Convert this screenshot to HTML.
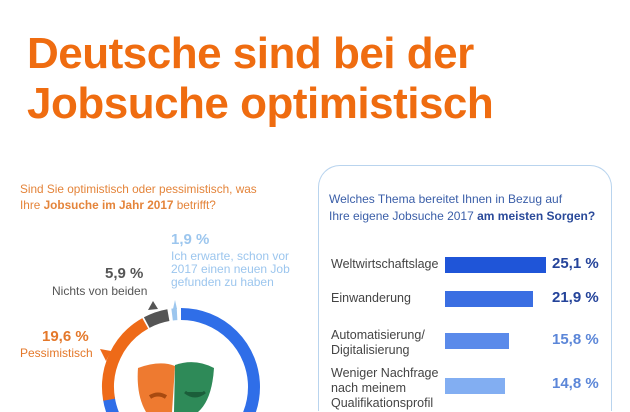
<!DOCTYPE html>
<html><head><meta charset="utf-8"><style>
body{margin:0;width:630px;height:412px;overflow:hidden;background:#fff;font-family:"Liberation Sans",sans-serif;position:relative}
.a{position:absolute;white-space:nowrap}
h1{position:absolute;left:27px;top:29px;margin:0;font-size:44px;line-height:50px;color:#ef6c10;font-weight:bold;letter-spacing:-0.5px}
.q{left:20px;top:181px;font-size:11.8px;line-height:16px;color:#e4843a}
.box{position:absolute;left:318px;top:165px;width:292px;height:245px;border:1.5px solid #b9d4ee;border-bottom:none;border-radius:22px 22px 0 0}
.rq{left:329px;top:191px;font-size:12px;line-height:17px;color:#3a5ea8}
.lab{left:331px;font-size:12.5px;line-height:15px;color:#444}
.bar{position:absolute;left:445px;height:16px}
.val{left:552px;font-size:15px;font-weight:bold}
</style></head><body>
<h1>Deutsche sind bei der<br>Jobsuche optimistisch</h1>
<div class="a q">Sind Sie optimistisch oder pessimistisch, was<br>Ihre <b>Jobsuche im Jahr 2017</b> betrifft?</div>

<div class="a" style="left:171px;top:231px;font-size:15px;font-weight:bold;color:#9cc6ee">1,9 %</div>
<div class="a" style="left:171px;top:250px;font-size:12px;line-height:13px;color:#9cc6ee">Ich erwarte, schon vor<br>2017 einen neuen Job<br>gefunden zu haben</div>
<div class="a" style="left:105px;top:265px;font-size:15px;font-weight:bold;color:#555">5,9 %</div>
<div class="a" style="left:52px;top:284px;font-size:12px;color:#555">Nichts von beiden</div>
<div class="a" style="left:42px;top:328px;font-size:15px;font-weight:bold;color:#e4782a">19,6 %</div>
<div class="a" style="left:20px;top:346px;font-size:12px;color:#e4782a">Pessimistisch</div>

<svg class="a" style="left:0;top:0" width="630" height="412">
<g transform="translate(181,387)" fill="none" stroke-width="12">
<circle r="73" stroke="#2f6ee8" stroke-dasharray="333 1000" transform="rotate(-90)"/>
<circle r="73" stroke="#ee6a18" stroke-dasharray="90 1000" transform="rotate(-190)"/>
<circle r="73" stroke="#555" stroke-dasharray="23 1000" transform="rotate(-118)"/>
<circle r="73" stroke="#9cc6ee" stroke-dasharray="5 1000" transform="rotate(-97)"/>
</g>
<polygon points="148,310 153,301 158,309" fill="#555"/>
<polygon points="173,309 175,300 177,309" fill="#9cc6ee"/>
<polygon points="100,349 111,351 106,361" fill="#ee6a18"/>
<path d="M138,368 Q160,360 175,366 L172,412 L146,412 Q136,395 138,368Z" fill="#ee7a30"/>
<path d="M175,365 Q195,358 214,368 Q212,400 198,412 L174,412Z" fill="#2e8a58"/>
<path d="M185,392 Q195,400 205,392" stroke="#1b5e3a" stroke-width="3" fill="#1b5e3a"/>
<path d="M150,397 Q158,392 166,397" stroke="#a84a10" stroke-width="4" fill="none"/>
</svg>

<div class="box"></div>
<div class="a rq">Welches Thema bereitet Ihnen in Bezug auf<br>Ihre eigene Jobsuche 2017 <b style="color:#2a4a9a">am meisten Sorgen?</b></div>
<div class="a lab" style="top:257px">Weltwirtschaftslage</div>
<div class="bar" style="top:257px;width:101px;background:#1f55d8"></div>
<div class="a val" style="top:255px;color:#24439a">25,1 %</div>
<div class="a lab" style="top:291px">Einwanderung</div>
<div class="bar" style="top:291px;width:88px;background:#3a6ee2"></div>
<div class="a val" style="top:289px;color:#24439a">21,9 %</div>
<div class="a lab" style="top:328px">Automatisierung/<br>Digitalisierung</div>
<div class="bar" style="top:333px;width:64px;background:#5a8aea"></div>
<div class="a val" style="top:331px;color:#5b86d8">15,8 %</div>
<div class="a lab" style="top:366px">Weniger Nachfrage<br>nach meinem<br>Qualifikationsprofil</div>
<div class="bar" style="top:378px;width:60px;background:#82aef2"></div>
<div class="a val" style="top:375px;color:#5b86d8">14,8 %</div>
</body></html>
